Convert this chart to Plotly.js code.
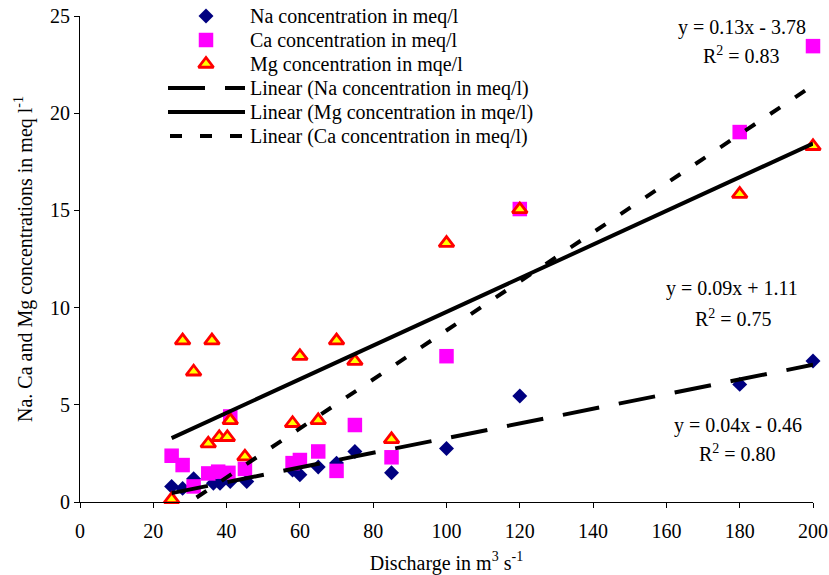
<!DOCTYPE html>
<html>
<head>
<meta charset="utf-8">
<script src="https://cdn.plot.ly/plotly-3.0.1.min.js"></script>
<style>html,body{margin:0;padding:0;background:#fff;}#chart{width:829px;height:575px;}</style>
</head>
<body>
<div id="chart"></div>
<script>
// Discharge (m3/s) and concentrations (meq/l)
const naX = [25, 28, 31, 36.4, 38.2, 41, 45.5, 58, 60, 65, 70, 75, 85, 100, 120, 180, 200];
const naY = [0.8, 0.7, 1.2, 0.96, 0.96, 1.05, 1.05, 1.65, 1.4, 1.8, 2.0, 2.6, 1.5, 2.75, 5.45, 6.05, 7.25];

const caX = [25, 28, 31, 35, 37.7, 40.5, 41, 45, 58, 60, 65, 70, 75, 85, 100, 120, 180, 200];
const caY = [2.38, 1.9, 0.8, 1.47, 1.56, 1.5, 4.4, 1.7, 2.0, 2.16, 2.6, 1.6, 3.96, 2.3, 7.5, 15.07, 19.03, 23.45];

const mgX = [25, 28, 31, 35, 36, 38, 40.2, 41, 45, 58, 60, 65, 70, 75, 85, 100, 120, 180, 200];
const mgY = [0.14, 8.3, 6.7, 3.0, 8.3, 3.33, 3.33, 4.2, 2.33, 4.05, 7.5, 4.2, 8.3, 7.25, 3.22, 13.32, 15.05, 15.84, 18.3];

const seriesNames = ['Na concentration in meq/l', 'Ca concentration in meq/l', 'Mg concentration in mqe/l'];
const trendNames = ['Linear (Na concentration in meq/l)', 'Linear (Mg concentration in mqe/l)', 'Linear (Ca concentration in meq/l)'];

const eqLabels = ['y = 0.13x - 3.78', 'R<sup>2</sup> = 0.83', 'y = 0.09x + 1.11', 'R<sup>2</sup> = 0.75', 'y = 0.04x - 0.46', 'R<sup>2</sup> = 0.80'];

const xTitle = 'Discharge in m<sup>3</sup> s<sup>-1</sup>';
const yTitle = 'Na. Ca and Mg concentrations in meq l<sup>-1</sup>';

function fit(xs, ys) {
  const n = xs.length;
  const mx = xs.reduce((a, b) => a + b, 0) / n;
  const my = ys.reduce((a, b) => a + b, 0) / n;
  let sxy = 0, sxx = 0;
  for (let i = 0; i < n; i++) { sxy += (xs[i] - mx) * (ys[i] - my); sxx += (xs[i] - mx) ** 2; }
  const b = sxy / sxx, a = my - b * mx;
  const x0 = Math.min(...xs), x1 = Math.max(...xs);
  return { x: [x0, x1], y: [a + b * x0, a + b * x1] };
}

const FONT = 'Liberation Serif, Times New Roman, serif';
const FS = 20;
const naFit = fit(naX, naY), caFit = fit(caX, caY), mgFit = fit(mgX, mgY);

const naMarker = { symbol: 'diamond', size: 11.5, color: '#000080' };
const caMarker = { symbol: 'square', size: 14.5, color: '#FF00FF' };
const mgMarker = { symbol: 'triangle-up', size: 13, color: '#FFFF00', line: { color: '#FF0000', width: 2.8 } };
const naLine = { color: '#000', width: 4, dash: '37px,20px' };
const mgLine = { color: '#000', width: 4 };
const caLine = { color: '#000', width: 4, dash: '12px,18px' };

const traces = [
  { x: naX, y: naY, name: seriesNames[0], mode: 'markers', type: 'scatter', cliponaxis: false, marker: naMarker },
  { x: caX, y: caY, name: seriesNames[1], mode: 'markers', type: 'scatter', cliponaxis: false, marker: caMarker },
  { x: mgX, y: mgY, name: seriesNames[2], mode: 'markers', type: 'scatter', cliponaxis: false, marker: mgMarker },
  { x: naFit.x, y: naFit.y, name: trendNames[0], mode: 'lines', type: 'scatter', line: naLine },
  { x: mgFit.x, y: mgFit.y, name: trendNames[1], mode: 'lines', type: 'scatter', line: mgLine },
  { x: caFit.x, y: caFit.y, name: trendNames[2], mode: 'lines', type: 'scatter', line: caLine }
];

// Legend drawn on an overlay axis whose units are screen pixels of the plot area
const legRowY = [16, 40, 64, 88, 112, 136];
const legSymX = 206, legLineX = [168, 245], legTextX = 249;
const legendNames = seriesNames.concat(trendNames);
[naMarker, caMarker, mgMarker].forEach((m, i) => {
  traces.push({ x: [legSymX], y: [legRowY[i]], xaxis: 'x2', yaxis: 'y2', mode: 'markers', type: 'scatter',
    marker: m, hoverinfo: 'skip', cliponaxis: false });
});
[naLine, mgLine, caLine].forEach((l, i) => {
  traces.push({ x: i === 2 ? [170, 245] : legLineX, y: [legRowY[i + 3], legRowY[i + 3]], xaxis: 'x2', yaxis: 'y2',
    mode: 'lines', type: 'scatter', line: l, hoverinfo: 'skip', cliponaxis: false });
});

const eqPos = [[180.6, 24.43], [180.4, 23.0], [177.9, 11.0], [178.2, 9.47], [179.5, 3.96], [179.5, 2.52]];
const annotations = eqLabels.map((t, i) => ({
  x: eqPos[i][0], y: eqPos[i][1], xref: 'x', yref: 'y', text: t, showarrow: false,
  font: { family: FONT, size: FS, color: '#000' }, xanchor: 'center', yanchor: 'middle'
}));
legendNames.forEach((t, i) => annotations.push({
  x: legTextX, y: legRowY[i], xref: 'x2', yref: 'y2', text: t, showarrow: false,
  font: { family: FONT, size: FS, color: '#000' }, xanchor: 'left', yanchor: 'middle', xshift: -1
}));

const layout = {
  width: 829, height: 575,
  margin: { l: 80, r: 16, t: 16, b: 73, autoexpand: false },
  paper_bgcolor: '#fff', plot_bgcolor: '#fff',
  font: { family: FONT, size: FS, color: '#000' },
  showlegend: false,
  xaxis: { range: [0, 200], dtick: 20, tick0: 0, ticks: 'outside', ticklen: 5, tickcolor: '#000',
    showline: true, linecolor: '#000', linewidth: 1, showgrid: false, zeroline: false,
    ticklabelstandoff: 6,
    title: { text: xTitle, font: { family: FONT, size: FS }, standoff: 14 } },
  yaxis: { range: [0, 25], dtick: 5, tick0: 0, ticks: 'outside', ticklen: 5, tickcolor: '#000',
    showline: true, linecolor: '#000', linewidth: 1, showgrid: false, zeroline: false,
    title: { text: yTitle, font: { family: FONT, size: FS }, standoff: 12 } },
  xaxis2: { overlaying: 'x', anchor: 'y2', range: [80, 813], visible: false, fixedrange: true },
  yaxis2: { overlaying: 'y', anchor: 'x2', range: [502, 16], visible: false, fixedrange: true },
  annotations: annotations
};

Plotly.newPlot('chart', traces, layout, { displayModeBar: false, staticPlot: true });
</script>
</body>
</html>
